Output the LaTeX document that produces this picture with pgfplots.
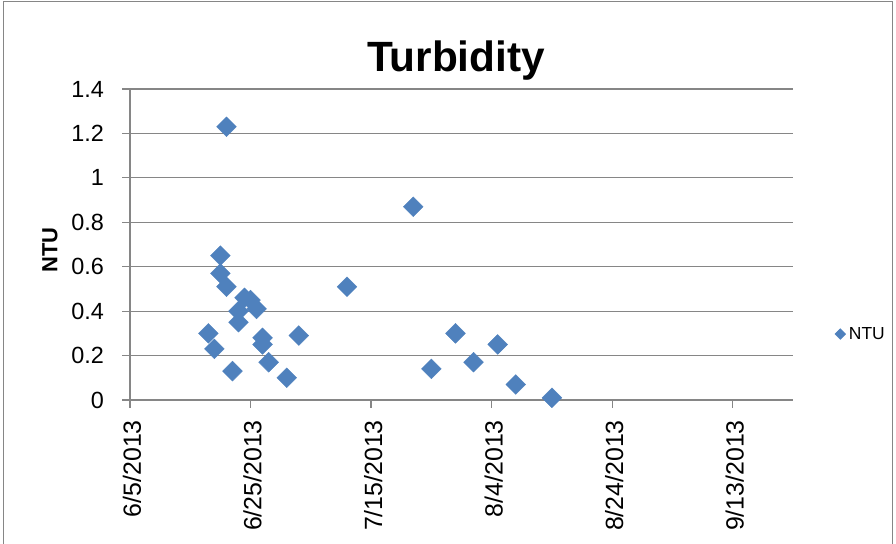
\documentclass[border=0pt]{standalone}
\usepackage{pgfplots}
\pgfplotsset{compat=1.18}
\usepackage{fontspec}
\setmainfont{Liberation Sans}
\definecolor{excelblue}{HTML}{4F81BD}
\definecolor{gridgray}{HTML}{868686}
\begin{document}
\begin{tikzpicture}[x=1bp,y=1bp]
\useasboundingbox (0,0) rectangle (896,544);
\draw[gridgray, line width=1.2bp] (3.5,-10) rectangle (892.5,542.5);
\begin{axis}[
  at={(130bp,144bp)}, anchor=south west,
  scale only axis, width=663bp, height=311bp,
  xmin=0, xmax=110, ymin=0, ymax=1.4,
  xtick={0,20,40,60,80,100},
  xticklabels={6/5/2013,6/25/2013,7/15/2013,8/4/2013,8/24/2013,9/13/2013},
  ytick={0,0.2,0.4,0.6,0.8,1,1.2,1.4},
  yticklabels={0,0.2,0.4,0.6,0.8,1,1.2,1.4},
  axis x line*=bottom, axis y line*=left,
  axis line style={gridgray, line width=1.2bp, -},
  tick align=outside, major tick length=8bp,
  tick style={gridgray, line width=1.2bp},
  ymajorgrids, grid style={gridgray, line width=1.2bp},
  yticklabel style={font=\fontsize{23.5}{27}\selectfont, inner sep=0pt, anchor=east, xshift=-18bp},
  xticklabel style={font=\fontsize{25}{29}\selectfont, inner sep=0pt, anchor=east, yshift=-12bp, xshift=2bp, rotate=90},
  title={Turbidity},
  title style={font=\fontsize{42.5}{48}\selectfont\bfseries, at={(axis description cs:0.4917,1.0067)}, inner sep=0pt},
  ylabel={NTU},
  ylabel style={font=\fontsize{22}{26}\selectfont\bfseries, at={(axis description cs:-0.1207,0.482)}, anchor=center, inner sep=0pt},
  legend style={at={(axis description cs:1.0629,0.212)}, anchor=west, draw=none, fill=none, font=\fontsize{17.5}{21}\selectfont, inner sep=0pt},
  legend image code/.code={\draw[#1, mark size=3.8bp] plot coordinates {(0bp,0bp)}; \path (-4bp,0bp) (6.5bp,0bp);},
]
\addplot[only marks, mark=square*, mark size=7bp, mark options={rotate=45, fill=excelblue, draw=excelblue}] table[row sep=\\] {
x y\\
13 0.30\\
14 0.23\\
15 0.65\\
15 0.57\\
16 1.23\\
16 0.51\\
17 0.13\\
18 0.40\\
18 0.35\\
19 0.46\\
20 0.45\\
21 0.41\\
22 0.28\\
22 0.25\\
23 0.17\\
26 0.10\\
28 0.29\\
36 0.51\\
47 0.87\\
50 0.14\\
54 0.30\\
57 0.17\\
61 0.25\\
64 0.07\\
70 0.01\\
};
\addlegendentry{NTU}
\end{axis}
\end{tikzpicture}
\end{document}
